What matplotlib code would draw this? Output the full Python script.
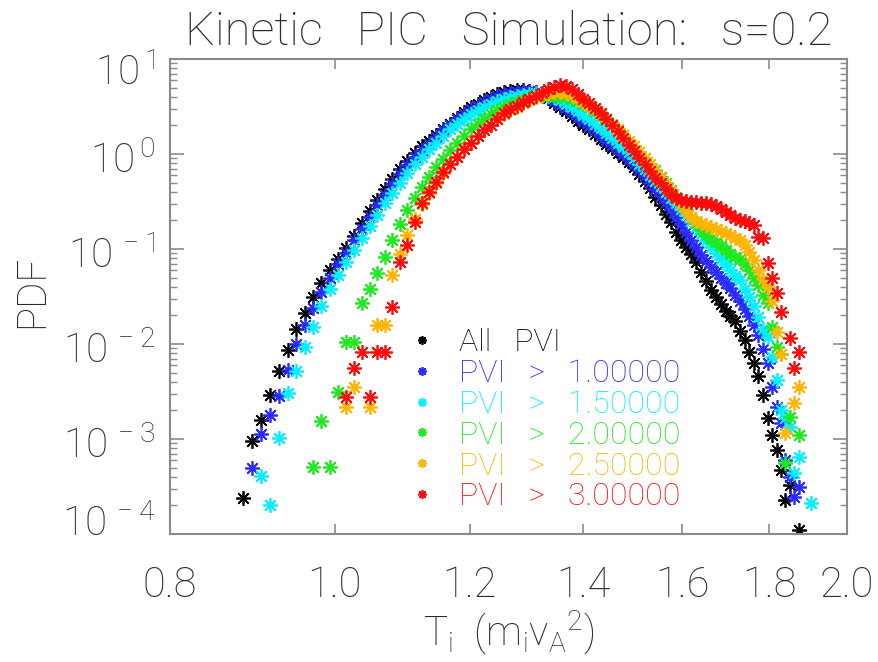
import numpy as np
import matplotlib
matplotlib.use('Agg')
import matplotlib.pyplot as plt
from matplotlib.ticker import FixedLocator, NullLocator, LogLocator, FuncFormatter
from matplotlib.transforms import ScaledTranslation

plt.rcParams['font.family'] = ['Roboto', 'DejaVu Sans']
plt.rcParams['font.weight'] = 'light'
plt.rcParams['mathtext.default'] = 'regular'

N = np.nan

# bin centres of the ion temperature histogram, T_i in m_i v_A^2
T_bins = [
    0.883, 0.894, 0.905, 0.916, 0.927, 0.938, 0.949, 0.960, 0.971, 0.982,
    0.993, 1.004, 1.015, 1.026, 1.037, 1.048, 1.059, 1.070, 1.081, 1.092,
    1.103, 1.114, 1.125, 1.136, 1.147, 1.158, 1.169, 1.180, 1.191, 1.202,
    1.213, 1.224, 1.235, 1.246, 1.257, 1.268, 1.279, 1.290, 1.301, 1.312,
    1.323, 1.334, 1.345, 1.356, 1.367, 1.378, 1.389, 1.400, 1.411, 1.422,
    1.433, 1.444, 1.455, 1.466, 1.477, 1.488, 1.499, 1.510, 1.521, 1.532,
    1.543, 1.554, 1.565, 1.576, 1.587, 1.598, 1.609, 1.620, 1.631, 1.642,
    1.653, 1.664, 1.675, 1.686, 1.697, 1.708, 1.719, 1.730, 1.741, 1.752,
    1.763, 1.774, 1.785, 1.796, 1.807, 1.818, 1.829, 1.840, 1.851, 1.862,
    1.873, 1.884, 1.895, 1.906,
]

# log10(PDF) per bin (nan = empty bin)
logpdf_all = [
    -3.62, -3.02, -2.80, -2.54, -2.28, -2.06, -1.84, -1.67, -1.51, -1.36,
    -1.22, -1.10, -0.99, -0.86, -0.73, -0.60, -0.48, -0.37, -0.26, -0.16,
    -0.07, 0.01, 0.08, 0.14, 0.20, 0.26, 0.32, 0.38, 0.44, 0.49,
    0.53, 0.57, 0.60, 0.63, 0.65, 0.665, 0.67, 0.67, 0.665, 0.655,
    0.63, 0.59, 0.54, 0.50, 0.45, 0.40, 0.35, 0.31, 0.26, 0.21,
    0.16, 0.11, 0.06, 0.01, -0.03, -0.08, -0.14, -0.21, -0.28, -0.36,
    -0.45, -0.54, -0.63, -0.72, -0.82, -0.91, -0.98, -1.05, -1.14, -1.24,
    -1.34, -1.43, -1.51, -1.58, -1.65, -1.70, -1.76, -1.86, -1.96, -2.08,
    -2.20, -2.34, -2.54, -2.78, -2.96, -3.12, -3.33, -3.64, -3.48, N,
    -3.96, N, N, N,
]
logpdf_pvi1 = [
    N, -3.30, -2.95, -2.75, -2.55, -2.27, -2.00, -1.80, -1.62, -1.45,
    -1.30, -1.16, -1.04, -0.91, -0.79, -0.66, -0.54, -0.43, -0.32, -0.21,
    -0.12, -0.03, 0.04, 0.11, 0.18, 0.25, 0.31, 0.37, 0.42, 0.47,
    0.51, 0.55, 0.58, 0.61, 0.63, 0.645, 0.655, 0.66, 0.66, 0.655,
    0.64, 0.60, 0.56, 0.52, 0.48, 0.44, 0.39, 0.35, 0.30, 0.25,
    0.20, 0.15, 0.10, 0.05, 0.00, -0.05, -0.11, -0.17, -0.23, -0.30,
    -0.37, -0.44, -0.51, -0.58, -0.66, -0.74, -0.82, -0.90, -0.98, -1.06,
    -1.13, -1.19, -1.24, -1.30, -1.36, -1.41, -1.48, -1.55, -1.63, -1.71,
    -1.80, -1.90, -2.05, -2.20, -2.45, -2.66, -2.83, -3.22, -3.40, -3.61,
    -3.50, N, N, N,
]
logpdf_pvi15 = [
    N, N, -3.39, -3.69, -2.99, -2.52, -2.28, -2.03, -1.82, -1.60,
    -1.42, -1.27, -1.14, -1.01, -0.88, -0.76, -0.64, -0.52, -0.41, -0.30,
    -0.20, -0.11, -0.03, 0.05, 0.12, 0.19, 0.26, 0.32, 0.37, 0.42,
    0.46, 0.50, 0.53, 0.56, 0.58, 0.60, 0.615, 0.625, 0.635, 0.64,
    0.64, 0.63, 0.60, 0.57, 0.53, 0.49, 0.45, 0.41, 0.37, 0.32,
    0.27, 0.22, 0.17, 0.12, 0.07, 0.02, -0.04, -0.10, -0.16, -0.22,
    -0.28, -0.34, -0.40, -0.46, -0.52, -0.58, -0.64, -0.70, -0.77, -0.84,
    -0.92, -0.98, -1.04, -1.10, -1.16, -1.22, -1.28, -1.33, -1.42, -1.50,
    -1.60, -1.72, -1.84, -1.93, -2.14, -2.38, -2.69, -2.78, -2.87, -3.36,
    -3.19, N, N, -3.67,
]
logpdf_pvi2 = [
    N, N, N, N, N, N, N, N, -3.29, -2.81,
    -3.29, -2.51, -1.98, -1.98, -1.57, -1.42, -1.25, -1.08, -0.91, -0.74,
    -0.59, -0.46, -0.35, -0.24, -0.14, -0.05, 0.04, 0.12, 0.19, 0.26,
    0.32, 0.37, 0.42, 0.46, 0.50, 0.53, 0.55, 0.57, 0.59, 0.60,
    0.61, 0.615, 0.615, 0.61, 0.60, 0.58, 0.56, 0.53, 0.49, 0.45,
    0.41, 0.36, 0.31, 0.26, 0.20, 0.14, 0.08, 0.02, -0.04, -0.10,
    -0.17, -0.24, -0.31, -0.38, -0.45, -0.52, -0.59, -0.66, -0.73, -0.80,
    -0.85, -0.89, -0.93, -0.97, -1.01, -1.05, -1.08, -1.11, -1.16, -1.22,
    -1.30, -1.38, -1.48, -1.57, -1.82, -2.03, -2.10, -3.25, -2.77, N,
    -2.96, N, N, N,
]
logpdf_pvi25 = [
    N, N, N, N, N, N, N, N, N, N,
    N, N, -2.66, -2.45, N, -2.66, -1.80, -1.80, -1.27, -1.05,
    -0.85, -0.68, -0.53, -0.41, -0.30, -0.20, -0.11, -0.03, 0.05, 0.12,
    0.19, 0.25, 0.31, 0.37, 0.42, 0.46, 0.50, 0.54, 0.57, 0.60,
    0.62, 0.64, 0.65, 0.65, 0.64, 0.62, 0.59, 0.55, 0.51, 0.47,
    0.42, 0.37, 0.32, 0.26, 0.20, 0.14, 0.08, 0.02, -0.04, -0.11,
    -0.18, -0.25, -0.32, -0.39, -0.46, -0.53, -0.60, -0.66, -0.70, -0.73,
    -0.75, -0.77, -0.79, -0.81, -0.83, -0.85, -0.88, -0.91, -0.96, -1.03,
    -1.12, -1.22, -1.32, -1.40, -1.55, -1.87, -2.10, -2.94, N, -2.62,
    -2.45, N, N, N,
]
logpdf_pvi3 = [
    N, N, N, N, N, N, N, N, N, N,
    N, N, -2.56, -2.25, -2.08, -2.56, -2.08, -2.08, -1.61, -1.14,
    -0.96, -0.72, -0.52, -0.40, -0.29, -0.19, -0.11, -0.03, 0.05, 0.12,
    0.19, 0.25, 0.31, 0.37, 0.43, 0.47, 0.51, 0.55, 0.58, 0.61,
    0.64, 0.68, 0.71, 0.73, 0.72, 0.68, 0.63, 0.58, 0.54, 0.48,
    0.43, 0.37, 0.31, 0.24, 0.17, 0.10, 0.03, -0.04, -0.11, -0.18,
    -0.25, -0.31, -0.37, -0.42, -0.46, -0.48, -0.49, -0.50, -0.51, -0.52,
    -0.52, -0.53, -0.55, -0.58, -0.61, -0.64, -0.67, -0.69, -0.71, -0.73,
    -0.75, -0.87, -0.88, -1.15, -1.31, -1.46, -1.66, N, -1.94, -2.25,
    -2.08, N, N, N,
]

series = [logpdf_all, logpdf_pvi1, logpdf_pvi15, logpdf_pvi2, logpdf_pvi25, logpdf_pvi3]
labels = ['All   PVI', 'PVI   >   1.00000', 'PVI   >   1.50000', 'PVI   >   2.00000',
          'PVI   >   2.50000', 'PVI   >   3.00000']
colors = ['#000000', '#2a2aff', '#00f0ff', '#1ee81e', '#ffb400', '#ff0a0a']

x_ticks = [0.8, 1.0, 1.2, 1.4, 1.6, 1.8, 2.0]
x_ticklabels = ['0.8', '1.0', '1.2', '1.4', '1.6', '1.8', '2.0']

TXT = '#2b2b2b'
AX = '#8a8a8a'
STAR = (8, 2, 0)

fig = plt.figure(figsize=(8.79, 6.62), dpi=100)
ax = fig.add_axes([170 / 879, 1 - 534 / 662, 677 / 879, 475 / 662])

T = np.array(T_bins)
handles = []
for vals, col in zip(series, colors):
    pdf = 10.0 ** np.array(vals)
    h, = ax.plot(T, pdf, linestyle='none', marker=STAR, markersize=10.5,
                 markeredgewidth=1.25, color=col)
    handles.append(h)

ax.set_xscale('log')
ax.set_yscale('log')
ax.set_xlim(0.8, 2.0)
ax.set_ylim(1e-4, 10)

ax.xaxis.set_major_locator(FixedLocator(x_ticks))
ax.xaxis.set_minor_locator(NullLocator())
ax.set_xticklabels(x_ticklabels)
ax.yaxis.set_major_locator(LogLocator(base=10, numticks=10))
ax.yaxis.set_minor_locator(LogLocator(base=10, subs=np.arange(2, 10), numticks=20))
ax.yaxis.set_major_formatter(FuncFormatter(
    lambda v, p: r'$10^{\,%d}$' % int(round(np.log10(v)))))

for s in ax.spines.values():
    s.set_color(AX)
    s.set_linewidth(1.5)
ax.tick_params(which='both', direction='in', top=True, right=True, color=AX,
               labelcolor=TXT)
ax.tick_params(axis='x', which='major', length=7, width=1.2, pad=22, labelsize=30)
ax.tick_params(axis='y', which='major', length=10, width=1.2, pad=11, labelsize=29)
ax.tick_params(axis='y', which='minor', length=5, width=1.0)

fig.canvas.draw()
for lab in ax.get_yticklabels():
    v = lab.get_position()[1]
    dy = -3
    if v > 5:
        dy = -10
    elif v < 2e-4:
        dy = 14
    lab.set_transform(lab.get_transform() + ScaledTranslation(0, dy / 100, fig.dpi_scale_trans))

ax.set_title('Kinetic   PIC   Simulation:   s=0.2', fontsize=34, color=TXT,
             fontweight='light', pad=10)
ax.set_xlabel(r'T$_{i}$  (m$_{i}$v$_{A}$$^{2}$)', fontsize=29, color=TXT,
              fontweight='light', labelpad=2)
ax.set_ylabel('PDF', fontsize=29, color=TXT, fontweight='light')
ax.yaxis.set_label_coords(-0.176, 0.51)

ax.legend(handles, labels, loc='upper left', bbox_to_anchor=(0.349, 0.434),
          frameon=False, fontsize=23, labelcolor=colors, markerscale=0.6,
          handlelength=1.0, handletextpad=0.65, labelspacing=0.06,
          borderpad=0, borderaxespad=0)

fig.savefig('out.png', dpi=100)
